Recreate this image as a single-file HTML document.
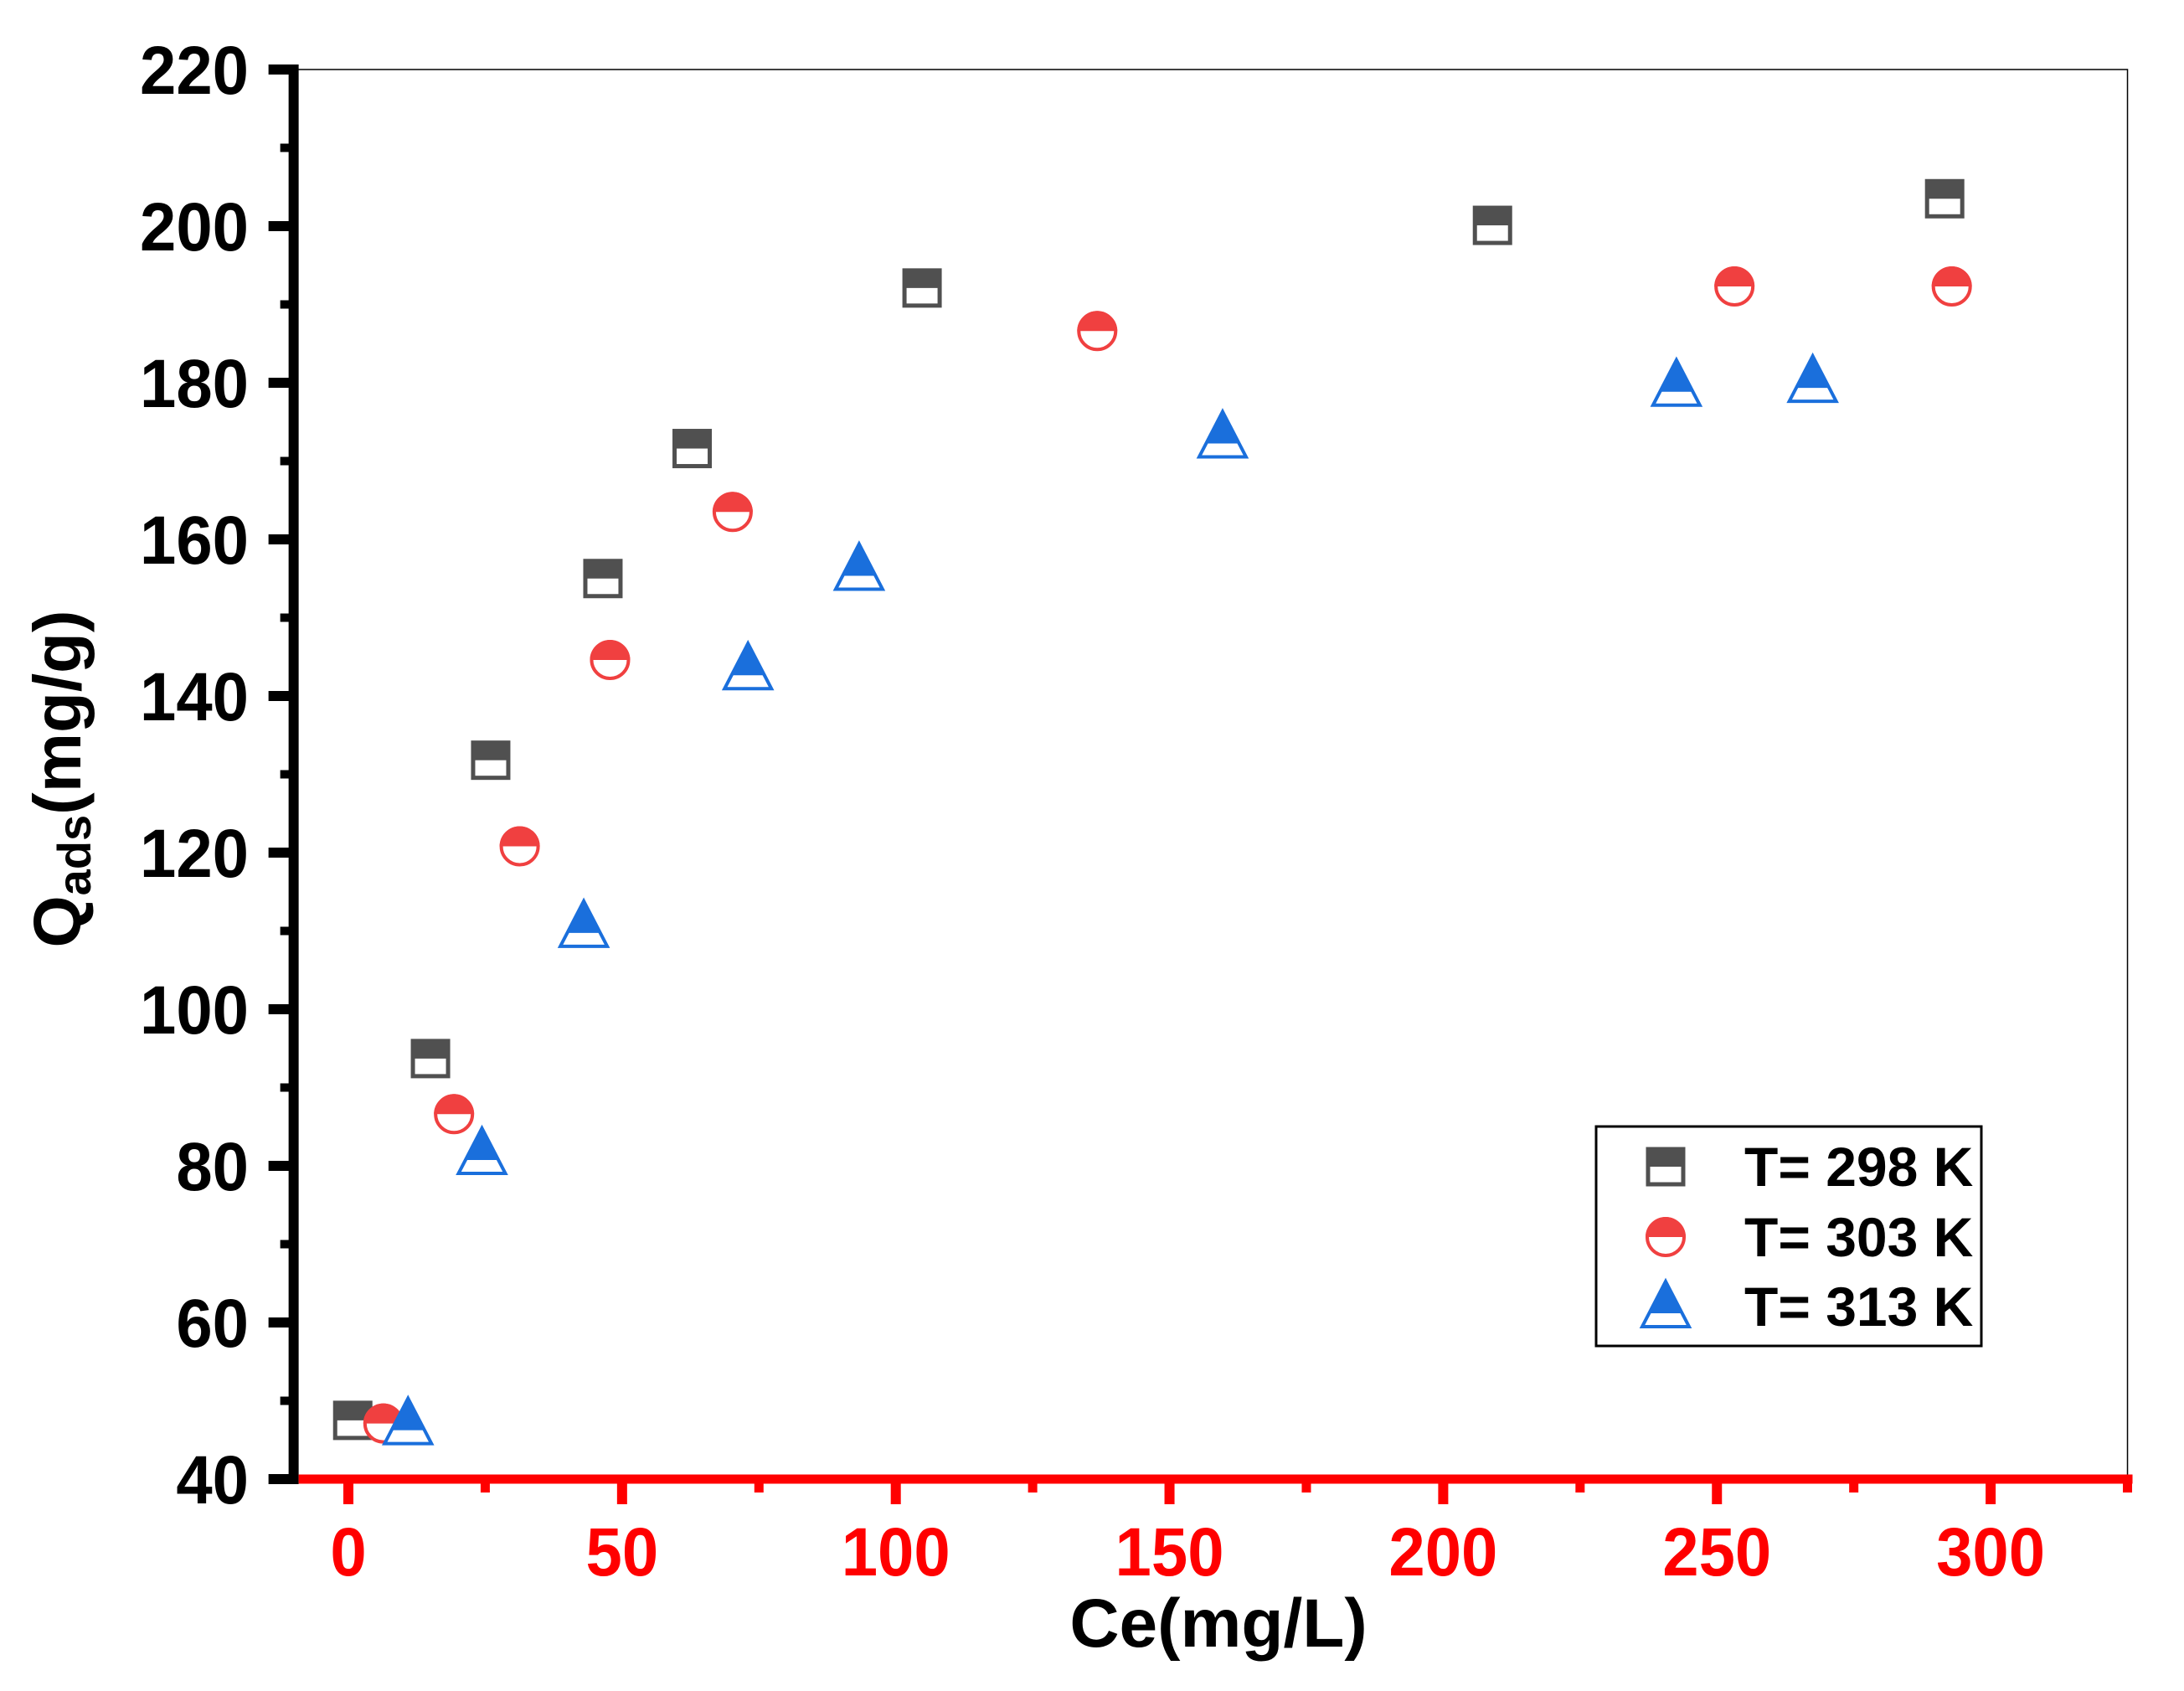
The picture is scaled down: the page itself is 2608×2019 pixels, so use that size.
<!DOCTYPE html>
<html><head><meta charset="utf-8"><style>
html,body{margin:0;padding:0;background:#fff;}
svg{display:block;font-family:"Liberation Sans",Arial,sans-serif;font-weight:bold;}
</style></head><body>
<svg id="chart" width="2608" height="2019" viewBox="0 0 2608 2019">
<g id="frame"></g>
<g id="marks"></g>
<g id="legend"></g>
</svg>
<script>
const xTicks = [0, 50, 100, 150, 200, 250, 300];
const yTicks = [40, 60, 80, 100, 120, 140, 160, 180, 200, 220];
const x298 = [0.8, 15, 26, 46.5, 62.8, 104.8, 209, 291.6];
const y298 = [47.5, 93.7, 131.8, 155, 171.6, 192.1, 200.1, 203.5];
const x303 = [6.4, 19.3, 31.3, 47.8, 70.2, 136.8, 253.2, 292.9];
const y303 = [47.1, 86.6, 120.8, 144.6, 163.5, 186.6, 192.3, 192.3];
const x313 = [10.9, 24.4, 43, 73, 93.3, 159.7, 242.6, 267.5];
const y313 = [47.1, 81.6, 110.6, 143.5, 156.2, 173.1, 179.7, 180.2];
const seriesNames = ["T= 298 K", "T= 303 K", "T= 313 K"];

const NS = "http://www.w3.org/2000/svg";
const X0 = 416, XK = 6.537, Y0 = 1766, YK = 9.35;
function sx(v){ return X0 + XK * v; }
function sy(v){ return Y0 - YK * (v - 40); }
function mk(tag, attrs, parent){
  const e = document.createElementNS(NS, tag);
  for (const k in attrs) e.setAttribute(k, attrs[k]);
  parent.appendChild(e); return e;
}
const frame = document.getElementById('frame');
const marks = document.getElementById('marks');
const legend = document.getElementById('legend');
const L = sx(-10), R = sx(325), T = sy(220), B = sy(40);

let e;
e = mk('path', {d:`M${L} ${T} H${R} V${B}`, fill:'none', stroke:'#000', 'stroke-width':1.5}, frame);



// y axis
e = mk('line', {x1:L, y1:T-6, x2:L, y2:B+6, stroke:'#000', 'stroke-width':12}, frame);


for (let i = 0; i < yTicks.length; i++){
  const v = yTicks[i], y = sy(v);
  e = mk('line', {x1:L-30, y1:y, x2:L, y2:y, stroke:'#000', 'stroke-width':12}, frame);
  
  
  if (i < yTicks.length - 1){
    const ym = sy(v + 10);
    e = mk('line', {x1:L-16, y1:ym, x2:L, y2:ym, stroke:'#000', 'stroke-width':10}, frame);
    
    
  }
  e = mk('text', {x:297, y:y+29, 'text-anchor':'end', 'font-size':82, fill:'#000', transform:`translate(297 0) scale(0.95 1) translate(-297 0)`}, frame);
  e.textContent = v;
  
  
}
// x axis
e = mk('line', {x1:L+6, y1:B, x2:R+6, y2:B, stroke:'#ff0000', 'stroke-width':11}, frame);


for (let i = 0; i < xTicks.length; i++){
  const v = xTicks[i], x = sx(v);
  e = mk('line', {x1:x, y1:B, x2:x, y2:B+30, stroke:'#ff0000', 'stroke-width':12}, frame);
  
  
  const xm = sx(v + 25);
  e = mk('line', {x1:xm, y1:B, x2:xm, y2:B+16, stroke:'#ff0000', 'stroke-width':11}, frame);
  
  
  e = mk('text', {x:x, y:1881, 'text-anchor':'middle', 'font-size':82, fill:'#ff0000', transform:`translate(${x} 0) scale(0.95 1) translate(${-x} 0)`}, frame);
  e.textContent = v;
  
  
}
e = mk('text', {x:1455, y:1966, 'text-anchor':'middle', 'font-size':82, fill:'#000'}, frame);
e.textContent = 'Ce(mg/L)';


e = mk('text', {x:0, y:0, 'text-anchor':'middle', 'font-size':80, fill:'#000', transform:'translate(96,930) rotate(-90)'}, frame);
e.innerHTML = 'Q<tspan font-size="56" dy="12">ads</tspan><tspan dy="-12">(mg/g)</tspan>';



function square(cx, cy, p, name){
  const g = mk('g', {}, p);
  
  
  mk('rect', {x:cx-21, y:cy-21, width:42, height:42, fill:'#fff', stroke:'#505050', 'stroke-width':5}, g);
  mk('rect', {x:cx-23, y:cy-23, width:46, height:23, fill:'#505050'}, g);
}
function circle(cx, cy, p, name){
  const g = mk('g', {}, p);
  
  
  mk('circle', {cx:cx, cy:cy, r:22, fill:'#fff', stroke:'#f04040', 'stroke-width':4}, g);
  mk('path', {d:`M${cx-24} ${cy} A24 24 0 0 1 ${cx+24} ${cy} Z`, fill:'#f04040'}, g);
}
function tri(cx, cy, p, name){
  const g = mk('g', {}, p);
  
  
  const t = cy - 30, b = cy + 24;
  mk('path', {d:`M${cx} ${t} L${cx+28} ${b} L${cx-28} ${b} Z`, fill:'#fff', stroke:'#1a6fdc', 'stroke-width':4, 'stroke-linejoin':'miter'}, g);
  mk('path', {d:`M${cx} ${t} L${cx+20} ${cy+8} L${cx-20} ${cy+8} Z`, fill:'#1a6fdc'}, g);
}
for (let i = 0; i < x298.length; i++) square(sx(x298[i]), sy(y298[i]), marks, 'point-298k');
for (let i = 0; i < x303.length; i++) circle(sx(x303[i]), sy(y303[i]), marks, 'point-303k');
for (let i = 0; i < x313.length; i++) tri(sx(x313[i]), sy(y313[i]), marks, 'point-313k');

e = mk('rect', {x:1906, y:1345, width:460, height:262, fill:'#fff', stroke:'#000', 'stroke-width':3}, legend);


const rowY = [1393, 1477, 1560];
const fns = [square, circle, tri];
for (let i = 0; i < 3; i++){
  fns[i](1989, rowY[i], legend, 'legend-symbol');
  e = mk('text', {x:2083, y:rowY[i]+23, 'font-size':66, fill:'#000'}, legend);
  e.textContent = seriesNames[i];
  
  
}
</script>
</body></html>
